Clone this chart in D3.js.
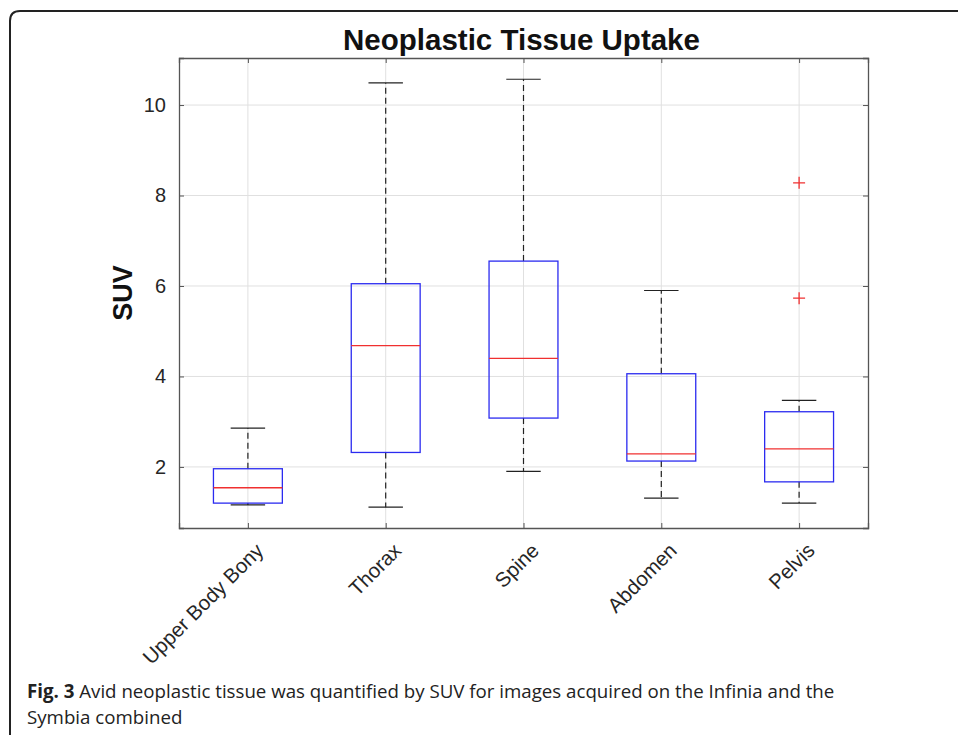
<!DOCTYPE html>
<html>
<head>
<meta charset="utf-8">
<script src="https://cdn.jsdelivr.net/npm/d3@7"></script>
<style>
  html, body { margin: 0; padding: 0; background: #fff; }
  svg { display: block; }
</style>
</head>
<body>
<svg id="chart" width="958" height="735"></svg>
<script>
// data
const categories = ['Upper Body Bony', 'Thorax', 'Spine', 'Abdomen', 'Pelvis'];
const whiskerLow = [1.16, 1.11, 1.90, 1.31, 1.20];
const q1 = [1.20, 2.32, 3.08, 2.13, 1.67];
const median = [1.54, 4.68, 4.40, 2.29, 2.40];
const q3 = [1.96, 6.05, 6.55, 4.06, 3.22];
const whiskerHigh = [2.86, 10.49, 10.57, 5.90, 3.47];
const outliers = [[], [], [], [], [8.28, 5.73]];
const yTicks = [2, 4, 6, 8, 10];
const titleText = 'Neoplastic Tissue Uptake';
const yLabel = 'SUV';

const svg = d3.select('#chart');
const margin = { top: 58, right: 90, bottom: 207, left: 179 };
const W = 958, H = 735;
const iw = W - margin.left - margin.right;
const ih = H - margin.top - margin.bottom;
const font = 'Liberation Sans, Arial, sans-serif';

const boxes = categories.map((c, i) => ({
  name: c, idx: i + 1,
  lo: whiskerLow[i], q1: q1[i], med: median[i], q3: q3[i], hi: whiskerHigh[i],
  out: outliers[i]
}));

// outer frame of the figure panel (rounded top-left corner)
svg.append('path')
  .attr('d', 'M10,735 L10,21 Q10,11 20,11 L958,11')
  .attr('fill', 'none').attr('stroke', '#222').attr('stroke-width', 2);

const x = d3.scaleLinear().domain([0.5, 5.5]).range([0, iw]);
const y = d3.scaleLinear().domain([0.65, 11.04]).range([ih, 0]);

const g = svg.append('g').attr('transform', `translate(${margin.left},${margin.top})`);

// grid
g.append('g').selectAll('line').data(yTicks).join('line')
  .attr('x1', 0).attr('x2', iw).attr('y1', d => y(d)).attr('y2', d => y(d))
  .attr('stroke', '#e0e0e0').attr('stroke-width', 1);
g.append('g').selectAll('line').data(boxes).join('line')
  .attr('x1', d => x(d.idx)).attr('x2', d => x(d.idx)).attr('y1', 0).attr('y2', ih)
  .attr('stroke', '#e0e0e0').attr('stroke-width', 1);

// axes (ticks pointing inward, box on)
const tickCol = '#262626';
const axL = g.append('g').call(d3.axisLeft(y).tickValues(yTicks).tickSize(-5).tickPadding(13));
const axR = g.append('g').attr('transform', `translate(${iw},0)`)
  .call(d3.axisRight(y).tickValues(yTicks).tickSize(-5).tickFormat(''));
const axB = g.append('g').attr('transform', `translate(0,${ih})`)
  .call(d3.axisBottom(x).tickValues(boxes.map(d => d.idx)).tickSize(-5).tickFormat(''));
const axT = g.append('g')
  .call(d3.axisTop(x).tickValues(boxes.map(d => d.idx)).tickSize(-5).tickFormat(''));
[axL, axR, axB, axT].forEach(a => {
  a.select('.domain').attr('stroke', '#555').attr('stroke-width', 1.3);
  a.selectAll('.tick line').attr('stroke', '#555');
});
axL.selectAll('.tick text')
  .attr('font-family', font)
  .attr('font-size', 20).attr('fill', tickCol);

// x labels rotated 45 degrees
g.append('g').selectAll('text').data(boxes).join('text')
  .attr('transform', d => `translate(${x(d.idx) + 6},${ih + 13}) rotate(-45)`)
  .attr('text-anchor', 'end').attr('dy', '0.75em')
  .attr('font-family', font)
  .attr('font-size', 20.5).attr('fill', tickCol)
  .text(d => d.name);

// box plots
const bw = x(1.25) - x(1);
const cw = x(1.125) - x(1);
const bg = g.append('g').selectAll('g.box').data(boxes).join('g').attr('class', 'box');

bg.append('line') // upper whisker
  .attr('x1', d => x(d.idx)).attr('x2', d => x(d.idx))
  .attr('y1', d => y(d.q3)).attr('y2', d => y(d.hi))
  .attr('stroke', '#222').attr('stroke-dasharray', '6,4').attr('stroke-width', 1.2);
bg.append('line') // lower whisker
  .attr('x1', d => x(d.idx)).attr('x2', d => x(d.idx))
  .attr('y1', d => y(d.q1)).attr('y2', d => y(d.lo))
  .attr('stroke', '#222').attr('stroke-dasharray', '6,4').attr('stroke-width', 1.2);
bg.append('line') // caps
  .attr('x1', d => x(d.idx) - cw).attr('x2', d => x(d.idx) + cw)
  .attr('y1', d => y(d.hi)).attr('y2', d => y(d.hi))
  .attr('stroke', '#222').attr('stroke-width', 1.2);
bg.append('line')
  .attr('x1', d => x(d.idx) - cw).attr('x2', d => x(d.idx) + cw)
  .attr('y1', d => y(d.lo)).attr('y2', d => y(d.lo))
  .attr('stroke', '#222').attr('stroke-width', 1.2);
bg.append('rect')
  .attr('x', d => x(d.idx) - bw).attr('width', 2 * bw)
  .attr('y', d => y(d.q3)).attr('height', d => y(d.q1) - y(d.q3))
  .attr('fill', 'none').attr('stroke', '#2b2bf0').attr('stroke-width', 1.3);
bg.append('line')
  .attr('x1', d => x(d.idx) - bw).attr('x2', d => x(d.idx) + bw)
  .attr('y1', d => y(d.med)).attr('y2', d => y(d.med))
  .attr('stroke', '#f03030').attr('stroke-width', 1.3);

// outliers as '+'
bg.each(function (d) {
  d3.select(this).selectAll('path.out').data(d.out).join('path')
    .attr('class', 'out')
    .attr('d', v => `M${x(d.idx) - 6},${y(v)}h12M${x(d.idx)},${y(v) - 6}v12`)
    .attr('stroke', '#f03030').attr('stroke-width', 1.3).attr('fill', 'none');
});

// title and y label
svg.append('text')
  .attr('x', margin.left + iw / 2 - 2).attr('y', 50)
  .attr('text-anchor', 'middle')
  .attr('font-family', font)
  .attr('font-weight', 'bold').attr('font-size', 29.5).attr('fill', '#111')
  .text(titleText);
svg.append('text')
  .attr('transform', `translate(132,${margin.top + ih / 2}) rotate(-90)`)
  .attr('text-anchor', 'middle')
  .attr('font-family', font)
  .attr('font-weight', 'bold').attr('font-size', 27).attr('fill', '#111')
  .text(yLabel);

// caption
const cap = svg.append('text')
  .attr('font-family', 'Open Sans, Noto Sans, sans-serif')
  .attr('font-size', 18.7).attr('fill', '#222');
const l1 = cap.append('tspan').attr('x', 27).attr('y', 698);
l1.append('tspan').attr('font-weight', 'bold').text('Fig. 3');
l1.append('tspan').text(' Avid neoplastic tissue was quantified by SUV for images acquired on the Infinia and the');
cap.append('tspan').attr('x', 27).attr('y', 724).text('Symbia combined');
</script>
</body>
</html>
